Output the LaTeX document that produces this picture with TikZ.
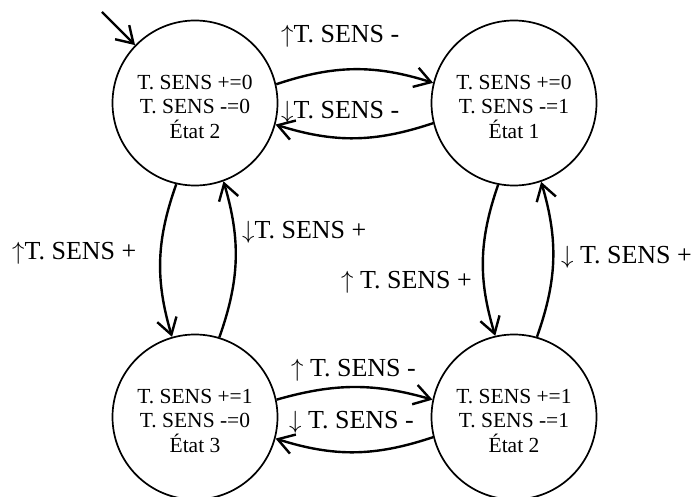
\documentclass[tikz,border=0pt]{standalone}
\usepackage{fontspec}
\setmainfont{Liberation Serif}
\usetikzlibrary{arrows.meta}
\begin{document}
\begin{tikzpicture}[x=1pt,y=-1pt,
  state/.style={circle,draw,line width=1.7pt,minimum size=165pt,inner sep=0pt},
  stxt/.style={align=center,font=\fontsize{21.5}{24.5}\selectfont,inner sep=0pt},
  lbl/.style={font=\fontsize{26}{30}\selectfont,anchor=base west,inner sep=0pt},
  tr/.style={line width=2.4pt,-{Straight Barb[length=16pt,width=20pt,line width=2.4pt]}}]
\useasboundingbox (0,0) rectangle (699,497);
% states
\node[state] (s2) at (195,103) {};
\node[state] (s1) at (514,103) {};
\node[state] (s3) at (195,417) {};
\node[state] (s4) at (514,417) {};
\node[stxt] (t2) at (195,106.5) {T. SENS +=0\\T. SENS -=0\\État 2};
\node[stxt] (t1) at (514,106.5) {T. SENS +=0\\T. SENS -=1\\État 1};
\node[stxt] (t3) at (195,420.5) {T. SENS +=1\\T. SENS -=0\\État 3};
\node[stxt] (t4) at (514,420.5) {T. SENS +=1\\T. SENS -=1\\État 2};
% initial arrow
\coordinate (init) at (102,12);
\draw[tr] (init) -- (s2.136);
% transitions
\draw[tr] (s2.13) to[bend left=18] (s1.166);
\draw[tr] (s1.194) to[bend left=18] (s2.-15);
\draw[tr] (s2.257) to[bend right=18] (s3.106);
\draw[tr] (s3.73) to[bend right=18] (s2.290);
\draw[tr] (s1.259) to[bend right=18] (s4.103);
\draw[tr] (s4.74) to[bend right=18] (s1.289);
\draw[tr] (s3.12) to[bend left=16] (s4.168);
\draw[tr] (s4.194) to[bend left=18] (s3.-15);
% labels
\node[lbl] (l1) at (281,43) {$\uparrow$T. SENS -};
\node[lbl] (l2) at (281,119) {$\downarrow$T. SENS -};
\node[lbl] (l3) at (12,259) {$\uparrow$T. SENS +};
\node[lbl] (l4) at (242,239) {$\downarrow$T. SENS +};
\node[lbl] (l5) at (341,288) {$\uparrow$ T. SENS +};
\node[lbl] (l6) at (561,264) {$\downarrow$ T. SENS +};
\node[lbl] (l7) at (291,376) {$\uparrow$ T. SENS -};
\node[lbl] (l8) at (289,428) {$\downarrow$ T. SENS -};
\end{tikzpicture}
\end{document}
